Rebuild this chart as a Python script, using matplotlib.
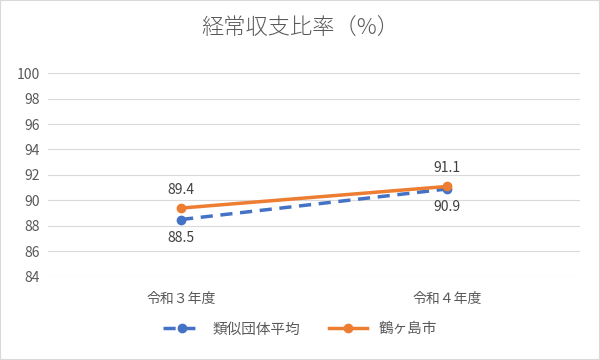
import matplotlib.pyplot as plt
from matplotlib.patches import Rectangle

plt.rcParams['font.family'] = ['Noto Sans CJK JP', 'DejaVu Sans']

categories = ['令和３年度', '令和４年度']
ruiji = [88.5, 90.9]
tsurugashima = [89.4, 91.1]
yticks = [84, 86, 88, 90, 92, 94, 96, 98, 100]

gray = '#595959'
blue = '#4472C4'
orange = '#ED7D31'

fig = plt.figure(figsize=(6, 3.6), dpi=100)
ax = fig.add_axes([0.08, 0.231, 0.887, 0.566])
fig.patches.append(Rectangle((0, 0), 1, 1, transform=fig.transFigure,
                             fill=False, edgecolor='#D9D9D9', lw=1.5))

xs = [0, 1]
ax.plot(xs, ruiji, color=blue, lw=2.5, ls=(0, (3.5, 2.2)), marker='o', ms=6,
        label='類似団体平均', zorder=3)
ax.plot(xs, tsurugashima, color=orange, lw=2.5, marker='o', ms=6,
        label='鶴ヶ島市', zorder=4)

for x, v in zip(xs, tsurugashima):
    ax.annotate(f'{v:.1f}', (x, v), xytext=(0, 8), textcoords='offset points',
                ha='center', va='bottom', fontsize=10, color='#404040')
for x, v in zip(xs, ruiji):
    ax.annotate(f'{v:.1f}', (x, v), xytext=(0, -8), textcoords='offset points',
                ha='center', va='top', fontsize=10, color='#404040')

ax.set_xlim(-0.5, 1.5)
ax.set_ylim(84, 100)
ax.set_yticks(yticks)
ax.set_xticks(xs)
ax.set_xticklabels(categories)
ax.grid(axis='y', color='#D9D9D9', lw=0.8)
ax.set_axisbelow(True)
for s in ax.spines.values():
    s.set_visible(False)
ax.tick_params(length=0, colors=gray, labelsize=10, pad=6)
ax.tick_params(axis='x', pad=11)

fig.suptitle('経常収支比率（%）', y=0.95, fontsize=16, color=gray,
             fontweight='light')
fig.legend(loc='center', bbox_to_anchor=(0.5, 0.085), ncol=2, frameon=False,
           fontsize=10.5, labelcolor=gray, handlelength=2.6, columnspacing=2)

fig.savefig('out.png', dpi=100)
